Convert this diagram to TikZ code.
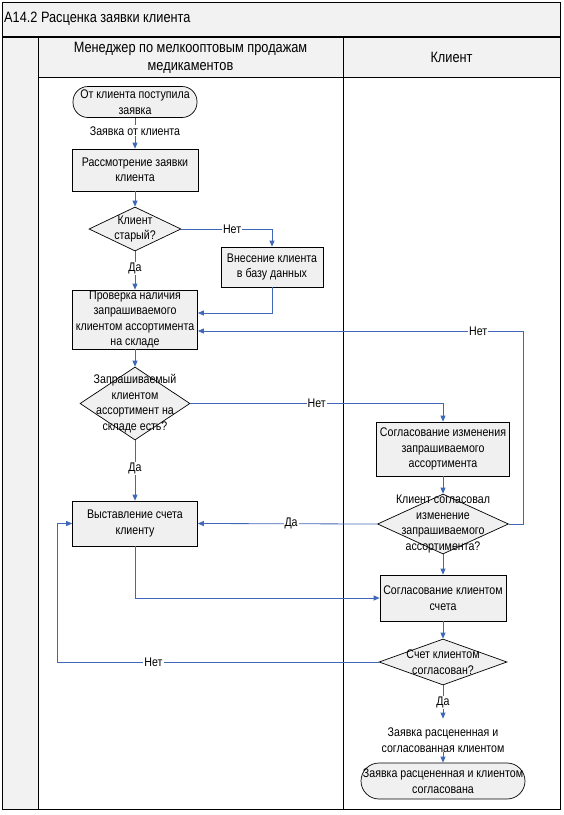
\documentclass[tikz,border=0pt]{standalone}
\usepackage{fontspec}
\setmainfont[FakeStretch=0.85]{Liberation Sans}
\usepackage{xcolor}
\usetikzlibrary{arrows.meta,shapes.geometric,positioning,calc}
\definecolor{flowblue}{HTML}{4068B8}
\definecolor{boxgray}{HTML}{F0F0F0}
\definecolor{headgray}{HTML}{F2F2F2}
\tikzset{
	process/.style={draw, fill=boxgray, line width=0.7pt, inner sep=0pt, align=center},
	terminal/.style={process, rounded corners=15pt},
	decision/.style={diamond, draw, fill=boxgray, line width=0.7pt, inner sep=0pt},
	dtext/.style={align=center, inner sep=0pt},
	flow/.style={draw=flowblue, line width=0.8pt, -{Triangle[length=6pt,width=5pt]}},
	lbl/.style={fill=white, inner sep=1pt, text=black}
}

\begin{document}
\begin{tikzpicture}[x=1pt,y=-1pt,font=\fontsize{12.5}{15.5}\selectfont]
	\useasboundingbox (0,0) rectangle (563,815);

	% Frame and lanes
	\fill[headgray] (2,2) rectangle (560,37);
	\fill[headgray] (38,37) rectangle (560,77);
	\fill[headgray] (2,37) rectangle (38,809);
	\draw[line width=0.8pt] (2,2) rectangle (560,809);
	\draw[line width=1.3pt] (2,37) -- (560,37);
	\draw[line width=0.8pt] (38,77) -- (560,77);
	\draw[line width=0.8pt] (38,37) -- (38,809);
	\draw[line width=0.8pt] (343,37) -- (343,809);

	% Titles
	\node[anchor=west, inner sep=0pt, font=\fontsize{15}{18}\selectfont] (title) at (4,19) {A14.2 Расценка заявки клиента};
	\node[align=center, font=\fontsize{15}{18}\selectfont] (manager) at (190.5,58) {Менеджер по мелкооптовым продажам\\медикаментов};
	\node[font=\fontsize{15}{18}\selectfont] (client) at (451.5,57) {Клиент};

	% Manager lane
	\node[terminal, minimum width=124pt, minimum height=31pt] (start) at (135,102) {От клиента поступила\\заявка};
	\node[process, minimum width=126pt, minimum height=42pt] (review) at (135,170) {Рассмотрение заявки\\клиента};
	\node[decision, minimum width=92pt, minimum height=44pt,
		label={[dtext]center:{Клиент\\старый?}}] (old) at (135,229) {};
	\node[process, minimum width=102pt, minimum height=40pt] (addbase) at (272,267) {Внесение клиента\\в базу данных};
	\node[process, minimum width=125pt, minimum height=59pt] (check) at (135,319.5) {Проверка наличия\\запрашиваемого\\клиентом ассортимента\\на складе};
	\node[decision, minimum width=110pt, minimum height=73pt,
		label={[dtext]center:{Запрашиваемый\\клиентом\\ассортимент на\\складе есть?}}] (stock) at (135,403.5) {};
	\node[process, minimum width=125pt, minimum height=45pt] (bill) at (135,523.5) {Выставление счета\\клиенту};

	% Client lane
	\node[process, minimum width=133pt, minimum height=54pt] (change) at (443,449) {Согласование изменения\\запрашиваемого\\ассортимента};
	\node[decision, minimum width=131pt, minimum height=60pt,
		label={[dtext]center:{Клиент согласовал\\изменение\\запрашиваемого\\ассортимента?}}] (agree) at (443,524) {};
	\node[process, minimum width=126pt, minimum height=46pt] (pay) at (443,598) {Согласование клиентом\\счета};
	\node[decision, minimum width=128pt, minimum height=46pt,
		label={[dtext]center:{Счет клиентом\\согласован?}}] (ok) at (443,662) {};
	\node[align=center, inner sep=0pt] (result) at (443,740) {Заявка расцененная и\\согласованная клиентом};
	\node[terminal, rounded corners=18pt, minimum width=164pt, minimum height=36pt] (finish) at (443,781) {Заявка расцененная и клиентом\\согласована};

	% Connectors
	\coordinate (nloop) at (57,662);
	\draw[flow] (start) -- node[lbl, pos=0.42] {Заявка от клиента} (review);
	\draw[flow] (review) -- (old);
	\draw[flow] (old.east) -| node[lbl, pos=0.28] {Нет} (addbase.north);
	\draw[flow] (old) -- node[lbl, pos=0.44] {Да} (check);
	\draw[flow] (addbase.south) |- ([yshift=6.5pt]check.east);
	\draw[flow] (check) -- (stock);
	\draw[flow] (stock.east) -| node[lbl, pos=0.25] {Нет} (change.north);
	\draw[flow] (stock) -- node[lbl, pos=0.46] {Да} (bill);
	\draw[flow] (change) -- (agree);
	\draw[flow] (agree.east) -- ++(15,0) |- node[lbl, pos=0.57] {Нет} ([yshift=-11.5pt]check.east);
	\draw[flow] (agree.west) -- node[lbl, pos=0.48] {Да} (bill.east);
	\draw[flow] (agree) -- (pay);
	\draw[flow] (bill.south) |- (pay.west);
	\draw[flow] (pay) -- (ok);
	\draw[flow] (ok.west) -- node[lbl, pos=0.7] {Нет} (nloop) |- (bill.west);
	\draw[flow] (ok.south) -- node[lbl, pos=0.52] {Да} ([yshift=9pt]result.north);
	\draw[flow] (result) -- (finish);
\end{tikzpicture}
\end{document}
